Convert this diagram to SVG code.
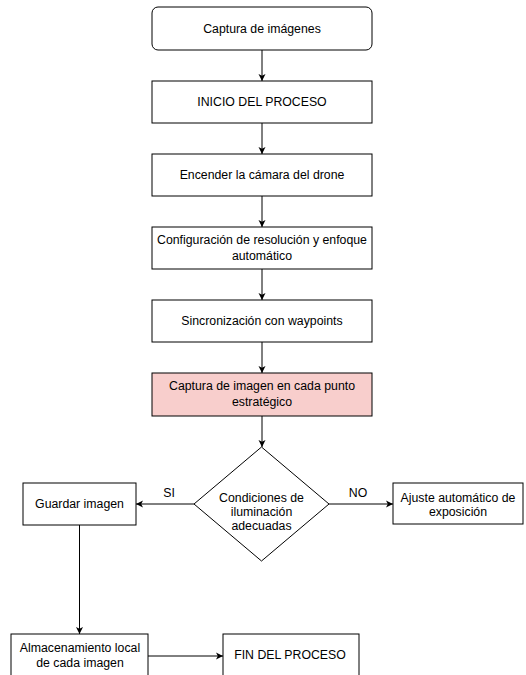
<svg xmlns="http://www.w3.org/2000/svg" width="526" height="675" viewBox="0 0 526 675">
<style>
.box{fill:#ffffff;stroke:#000000;stroke-width:1}
.red{fill:#f8cecc}
.t{font-family:"Liberation Sans",Arial,sans-serif;font-size:12.3px;fill:#000000;text-anchor:middle;dominant-baseline:central}
.c{fill:none;stroke:#000000;stroke-width:1}
</style>
<defs>
<marker id="ah" markerWidth="8" markerHeight="8" refX="7" refY="4" orient="auto" markerUnits="userSpaceOnUse">
<path d="M0,0.5 L7,4 L0,7.5 L1.8,4 Z" fill="#000"/>
</marker>
</defs>
<rect width="526" height="675" fill="#ffffff"/>
<g id="connectors">
<path class="c" d="M262,50 V81" marker-end="url(#ah)"/>
<path class="c" d="M262,123 V154" marker-end="url(#ah)"/>
<path class="c" d="M262,196 V227" marker-end="url(#ah)"/>
<path class="c" d="M262,269 V300" marker-end="url(#ah)"/>
<path class="c" d="M262,342 V373" marker-end="url(#ah)"/>
<path class="c" d="M262,416 V447" marker-end="url(#ah)"/>
<path class="c" d="M194,504 H136" marker-end="url(#ah)"/>
<path class="c" d="M329,504 H393" marker-end="url(#ah)"/>
<path class="c" d="M79.5,525 V634" marker-end="url(#ah)"/>
<path class="c" d="M148,656 H223" marker-end="url(#ah)"/>
<text class="t" x="169" y="493">SI</text>
<text class="t" x="358" y="493">NO</text>
</g>
<g id="n1"><rect class="box" x="152" y="7" width="220" height="43" rx="6"/><text class="t" x="262" y="29">Captura de imágenes</text></g>
<g id="n2"><rect class="box" x="152" y="81" width="220" height="42"/><text class="t" x="262" y="102">INICIO DEL PROCESO</text></g>
<g id="n3"><rect class="box" x="152" y="154" width="220" height="42"/><text class="t" x="262" y="175">Encender la cámara del drone</text></g>
<g id="n4"><rect class="box" x="152" y="227" width="220" height="42"/><text class="t" x="262" y="240">Configuración de resolución y enfoque</text><text class="t" x="262" y="256">automático</text></g>
<g id="n5"><rect class="box" x="152" y="300" width="220" height="42"/><text class="t" x="262" y="321">Sincronización con waypoints</text></g>
<g id="n6"><rect class="box red" x="152" y="373" width="220" height="43"/><text class="t" x="262" y="386">Captura de imagen en cada punto</text><text class="t" x="262" y="402">estratégico</text></g>
<g id="n7"><path class="box" d="M261.5,447 L329,504 L261.5,561 L194,504 Z"/><text class="t" x="261.5" y="498">Condiciones de</text><text class="t" x="261.5" y="512">iluminación</text><text class="t" x="261.5" y="526">adecuadas</text></g>
<g id="n8"><rect class="box" x="23" y="483" width="113" height="42"/><text class="t" x="79.5" y="504">Guardar imagen</text></g>
<g id="n9"><rect class="box" x="393" y="483" width="130" height="41"/><text class="t" x="458" y="498">Ajuste automático de</text><text class="t" x="458" y="512">exposición</text></g>
<g id="n10"><rect class="box" x="11" y="634" width="137" height="50"/><text class="t" x="80" y="648">Almacenamiento local</text><text class="t" x="80" y="663">de cada imagen</text></g>
<g id="n11"><rect class="box" x="223" y="634" width="136" height="50"/><text class="t" x="290" y="655">FIN DEL PROCESO</text></g>
</svg>
